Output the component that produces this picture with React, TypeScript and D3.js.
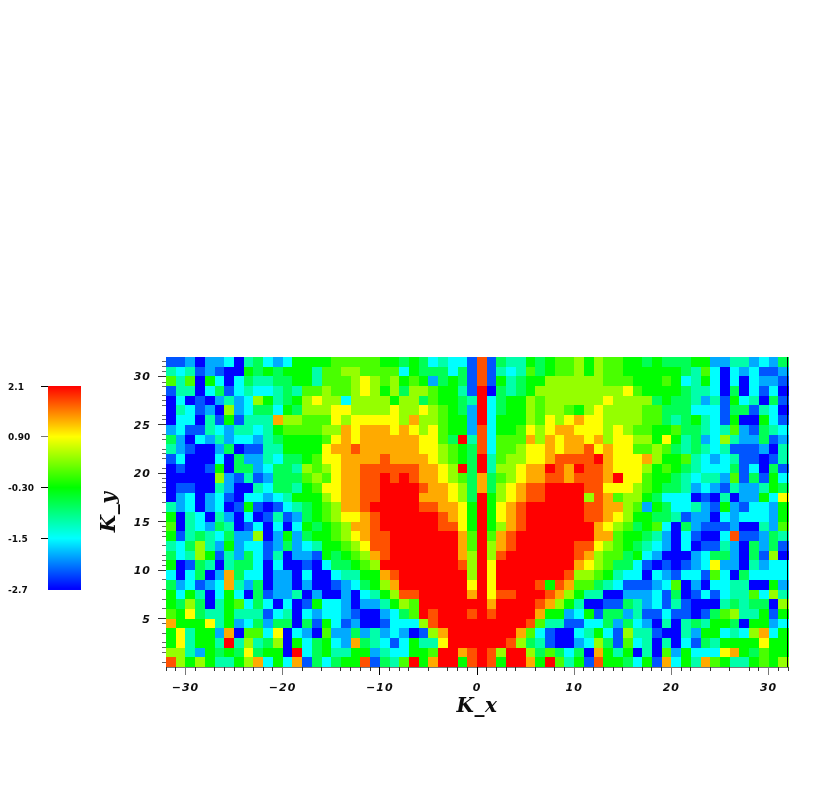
import React from "react";
import * as d3 from "d3";

// Cell levels, top row (K_y = 32) first. Letters a..m run along the colour bar, a = lowest.
const levelsWest = [
  "bbcaccdaefdcdgggghhhhh", "edebcbaagfgfgggehhiihh", "hehagdadfeeffggehhhiji", "beeadfbdeddefehhihhiji",
  "adabacecdigefgijiidiii", "aedbcaicdffdgfiiijjiii", "addaebgbeeekiihhhjijjj", "cdbbedceedeghhhhiikjkk",
  "fcadcecddcefgggghjkjkk", "ecbaacfabbeeggggjkklkk", "bdaaadafccedffghjjkkkk", "abaabgaffcdffeihijkkll",
  "aaaaaicbebcfffhihjkkll", "abbaaecaaedffeghjjkkll", "acdacdbaddcdegggijkkll", "ecdacdabgbabdefghikklm",
  "gaedaecadabebcfghijjkl", "haedcfeabdadadgfghikkl", "gbefedfcciacgcfgghijkl", "edfiecgcddbcfcdegghijl",
  "fdeigbecfdbeaccbgfghik", "gabfeaeffdadaabadffghi", "dadfackfddaccadaadeegg", "fcdbcdkecfaccacaabcdfg",
  "gdgeadgdafbcceacaacade", "gfifaeghdfdadabgddcacc", "hgjfeegeeebdeadcddcbaa", "kgggjegcdfcffafbgdbcaa",
  "gjeggckahhdjadcahccfce", "gjeggemeiefiagdfgdckfe", "iiecgfgfjfggamdfgeeggc", "ligigeegikdgdkbfdfgglb",
];
const levelsCentre = [
  "hggfgfdeddblbfeegfghhig", "hhhdgfffdfblbedehfghhig", "ihighgcfgfblbgefggiiiii", "igifiihggebmafefgiiiiii",
  "iigiifhggfemdfggihiiiii", "iijiijihgfcmdfggihiihgi", "jjjikiihggcmdgggihjijkj", "kkjkjijhggcldgghjijkkjj",
  "kkkkkjjhfmeldhhhkikjkkj", "kkkkkjjihgfldhhijjkjkkl", "klkkkkjihgfmehiijjkllll", "lllllkkjimfmeiijkkmlkml",
  "lmlmlkkjihfkfhijkkllkll", "lmmmmlkkjifkfijkllmmmml", "lmmmmkkkjifmgijkllmmmmi", "mmmmmllkkjgmgjklmmmmmml",
  "lmmmmmmlkjgmgjklmmmmmml", "lmmmmmmlljgmgiklmmmmmmm", "llmmmmmmmkhmhklmmmmmmmm", "klmmmmmmmkhmiklmmmmmmll",
  "jlmmmmmmmkimilmmmmmmmlk", "immmmmmmmlimjmmmmmmmmkj", "gklmmmmmmmimjmmmmmmmlii", "gikmmmmmmmjmjmmmmlglkhh",
  "fgillmmmmmkmjllmmmlkige", "cegihmmmmmmmkmmmmlkigea", "acdfhmlmmmlmlmmmmkggcdg", "abdddilmmmmmmmmmlheebbd",
  "ecdcabikmmmmmmmkhdbaade", "edbdgeejmmmmmmlifebaacd", "ceddgghmmklmlimmifhfdfa", "bfehmgkmmglmlgmmkgmhegb",
];
const levelsEast = [
  "gihhggfgfffggcceecdcf", "gihhggggggfehdadcdbbc", "iihhhggghgdegdadadccb", "iiiijhggggfeedafadbda",
  "iijiiiifgffecebgdeafb", "jjiiiihhfffdddbffbeda", "jjiiiihhfefgedbgaagdb", "jjijihhgghffedehcbfed",
  "jkijjiigjgefcdieccfbc", "ljkjjhhihfefedebbbcae", "lmkjjjkigghedcdebbabe", "klkjjjighgfedddfbdafb",
  "klkmjjhggfedeechbfbgd", "kljjjihgffecdcbeccegf", "ilkhiigfdddabaeaccgdj", "llkkihcgfddecbgcbddcg",
  "llkjiggffebccadcdddcg", "lkjihfghdafcbbbcaaech", "mkkhggfecadbaadlbbcfe", "ljihgfedcadabbecafcfb",
  "kihhfgdcaaacdffcafbia", "jihffdbababcdjccaecdd", "ihgeddadcbddbhdafdddd", "gfedbbbcdhacaddeeaagc",
  "eeaacccdbfabdbdeehdie", "aabbfecdbebaaaefeffai", "gbffcebbdbbabfhieegbg", "ddfcfdcaeaefeggfaggcd",
  "egdbieebaaecggdedikdg", "difbhdeaeadbfeggggjgg", "akgegaeahcgdddjkgfhgg", "blggfdgbkdgekhgeeghgi",
];

// Value that each letter stands for, as read against the colour bar.
const levelValues = [-2.7, -2.3, -1.9, -1.5, -1.1, -0.7, -0.3, 0.05, 0.4, 0.9, 1.3, 1.72, 2.1];
const colourStops = [-2.7, -1.5, -0.3, 0.9, 2.1];
const colourNames = ["#0000ff", "#00ffff", "#00ff00", "#ffff00", "#ff0000"];
const barTicks = [2.1, 0.9, -0.3, -1.5, -2.7];
const barLabels = ["2.1", "0.90", "-0.30", "-1.5", "-2.7"];
const xMajor = [-30, -20, -10, 0, 10, 20, 30];
const yMajor = [5, 10, 15, 20, 25, 30];
const xMinor = [-32, -31, -29, -27, -26, -25, -24, -23, -22, -21, -18, -16, -14, -13, -12, -11, -9, -8, -7, -5, -3, -2, -1, 1, 2, 3, 4, 6, 8, 9, 11, 12, 13, 14, 15, 17, 18, 19, 21, 22, 24, 26, 28, 29, 31, 32];
const yMinor = [31.5, 31, 30.5, 29.4, 29, 28, 27.5, 27, 26, 25.5, 24, 23.5, 22.5, 22, 21.5, 20.5, 19.5, 19, 18.5, 18, 17, 16, 14.5, 14, 13.5, 12.5, 11.5, 11, 10.5, 9, 8, 7, 6, 4.5, 3.5, 2.5, 2, 1.5, 0.5];

const rows = levelsWest.map((w, i) => w + levelsCentre[i].slice(1) + levelsEast[i].slice(1));
const values = rows.map((r) => Array.from(r).map((c) => levelValues[c.charCodeAt(0) - 97]));

const x = d3.scaleLinear().domain([-32, 32]).range([166, 788]);
const y = d3.scaleLinear().domain([0, 32]).range([667, 357]);
const colour = d3.scaleLinear<string>().domain(colourStops).range(colourNames).clamp(true);
const barY = d3.scaleLinear().domain([2.1, -2.7]).range([386, 589]);

const tickFont = { fontFamily: "'DejaVu Sans'", fontWeight: 700, fontStyle: "italic", fontSize: 11, fill: "#111" } as const;
const titleFont = { fontFamily: "'DejaVu Serif'", fontWeight: 700, fontStyle: "italic", fontSize: 20, fill: "#111" } as const;

export default function App() {
  const barSteps = d3.range(386, 589);
  return (
    <svg width={830} height={786} style={{ position: "absolute", left: 0, top: 0, background: "#fff" }}>
      <defs>
        <filter id="soft" x="-10%" y="-10%" width="120%" height="120%">
          <feGaussianBlur stdDeviation="0.35" />
        </filter>
      </defs>
      <g filter="url(#soft)" shapeRendering="crispEdges">
        {values.map((row, r) =>
          row.map((v, c) => (
            <rect
              key={`${r}-${c}`}
              x={x(-32 + c)}
              y={y(32 - r)}
              width={x(-31 + c) - x(-32 + c) + 0.5}
              height={y(31 - r) - y(32 - r) + 0.5}
              fill={colour(v)}
            />
          ))
        )}
      </g>
      <g shapeRendering="crispEdges">
        <line x1={787.5} x2={787.5} y1={357} y2={668} stroke="#000" />
        <line x1={166} x2={788} y1={667.5} y2={667.5} stroke="#777" />
        {xMinor.map((t) => (
          <line key={t} x1={x(t)} x2={x(t)} y1={667} y2={671} stroke="#333" />
        ))}
        {xMajor.map((t) => (
          <line key={t} x1={x(t)} x2={x(t)} y1={667} y2={675} stroke={t === 0 || t === -10 ? "#000" : "#777"} />
        ))}
        {yMinor.map((t) => (
          <line key={t} x1={162} x2={166} y1={y(t)} y2={y(t)} stroke="#666" />
        ))}
        {yMajor.map((t) => (
          <line key={t} x1={158} x2={166} y1={y(t)} y2={y(t)} stroke="#333" />
        ))}
        {barSteps.map((p) => (
          <rect key={p} x={48} y={p} width={33} height={1.5} fill={colour(barY.invert(p + 0.5))} />
        ))}
        {barTicks.slice(0, 4).map((t) => (
          <line key={t} x1={41} x2={48} y1={barY(t)} y2={barY(t)} stroke={t === 0.9 ? "#777" : "#000"} />
        ))}
      </g>
      <g filter="url(#soft)">
        {xMajor.map((t) => (
          <text key={t} x={x(t)} y={691} textAnchor="middle" letterSpacing={1} {...tickFont}>
            {t < 0 ? `\u2212${-t}` : t}
          </text>
        ))}
        {yMajor.map((t) => (
          <text key={t} x={151} y={y(t) + 4} textAnchor="end" letterSpacing={1} {...tickFont}>
            {t}
          </text>
        ))}
        {barLabels.map((l, i) => (
          <text key={l} x={8} y={barY(barTicks[i]) + 3.5} fontFamily="'DejaVu Sans'" fontWeight={700} fontSize={9} fill="#111">
            {l}
          </text>
        ))}
        <text x={477} y={712} textAnchor="middle" letterSpacing={0.5} {...titleFont}>K_x</text>
        <text transform="translate(115,512) rotate(-90)" textAnchor="middle" letterSpacing={0.5} {...titleFont}>K_y</text>
      </g>
    </svg>
  );
}
